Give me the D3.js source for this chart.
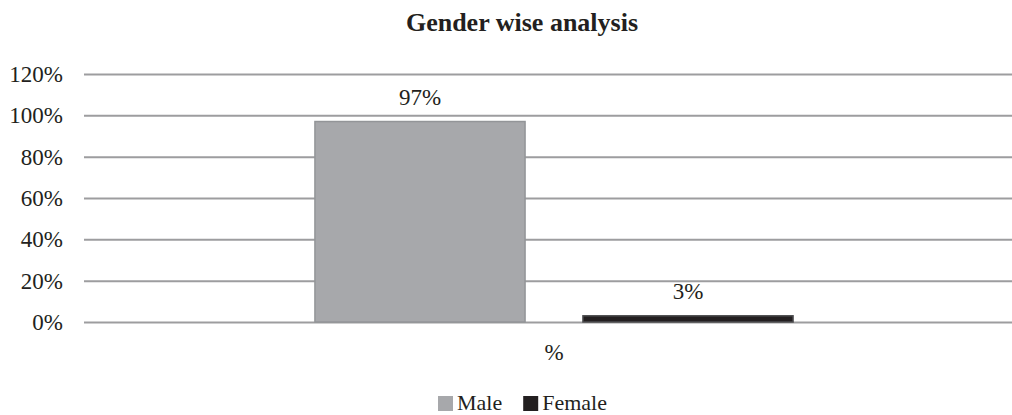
<!DOCTYPE html>
<html>
<head>
<meta charset="utf-8">
<script src="https://cdn.jsdelivr.net/npm/d3@7"></script>
<style>
  body { margin: 0; background: #fff; overflow: hidden; }
  text { font-family: "Liberation Serif", "Times New Roman", serif; fill: #231f20; }
</style>
</head>
<body>
<svg id="chart"></svg>
<script>
// chart data
var categories = ["%"];
var seriesNames = ["Male", "Female"];
var seriesValues = [0.97, 0.03];
var seriesLabels = ["97%", "3%"];
var tickValues = [0, 0.2, 0.4, 0.6, 0.8, 1.0, 1.2];

var w = 1012, h = 415;
var colors = { Male: "#a7a8ab", Female: "#231f20" };
var strokes = { Male: "#939598", Female: "#4d4d4f" };

var svg = d3.select("#chart").attr("width", w).attr("height", h);

// plot area (note: "top" is reserved on window, so use plot* names)
// gridlines run off the right edge of the picture
var plotLeft = 84, plotRight = 1024, plotTop = 74, plotBottom = 322;

var y = d3.scaleLinear().domain([0, 1.2]).range([plotBottom, plotTop]);

// outer band for the category, inner band for each series
var x0 = d3.scaleBand().domain(categories).range([plotLeft, plotRight])
    .paddingInner(0).paddingOuter(0.483);
var x1 = d3.scaleBand().domain(seriesNames).range([0, x0.bandwidth()])
    .paddingInner(0.216).paddingOuter(0);

// title
svg.append("text")
    .attr("x", 522).attr("y", 31)
    .attr("text-anchor", "middle")
    .style("font-size", "26px").style("font-weight", "bold")
    .text("Gender wise analysis");

// gridlines + tick labels
var yAxis = d3.axisLeft(y).tickValues(tickValues)
    .tickFormat(d3.format(".0%"))
    .tickSize(-(plotRight - plotLeft)).tickPadding(21);

var ga = svg.append("g").attr("transform", "translate(" + plotLeft + ",0)").call(yAxis);
ga.select(".domain").remove();
ga.selectAll(".tick line").attr("stroke", "#9d9d9f").attr("stroke-width", 2);
ga.selectAll(".tick text")
    .style("font-size", "23px")
    .style("font-family", "'Liberation Serif', 'Times New Roman', serif")
    .attr("fill", "#231f20");

// bars
var g = svg.append("g");
seriesNames.forEach(function (s, i) {
    var bx = x0(categories[0]) + x1(s);
    g.append("rect")
        .attr("x", bx)
        .attr("y", y(seriesValues[i]))
        .attr("width", x1.bandwidth())
        .attr("height", y(0) - y(seriesValues[i]))
        .attr("fill", colors[s])
        .attr("stroke", strokes[s])
        .attr("stroke-width", 1.5);
    g.append("text")
        .attr("x", bx + x1.bandwidth() / 2)
        .attr("y", y(seriesValues[i]) - 17)
        .attr("text-anchor", "middle")
        .style("font-size", "23px")
        .text(seriesLabels[i]);
});

// category label
svg.append("text")
    .attr("x", x0(categories[0]) + x0.bandwidth() / 2)
    .attr("y", 360)
    .attr("text-anchor", "middle")
    .style("font-size", "23px")
    .text(categories[0]);

// legend
var legend = svg.append("g");
var lx = 438;
seriesNames.forEach(function (s, i) {
    var item = legend.append("g").attr("transform", "translate(" + lx + ",0)");
    item.append("rect")
        .attr("x", 0).attr("y", 396)
        .attr("width", 15).attr("height", 15)
        .attr("fill", colors[s]);
    var t = item.append("text")
        .attr("x", 19).attr("y", 410)
        .style("font-size", "22px")
        .text(s);
    lx += 19 + t.node().getComputedTextLength() + 21;
});
</script>
</body>
</html>
